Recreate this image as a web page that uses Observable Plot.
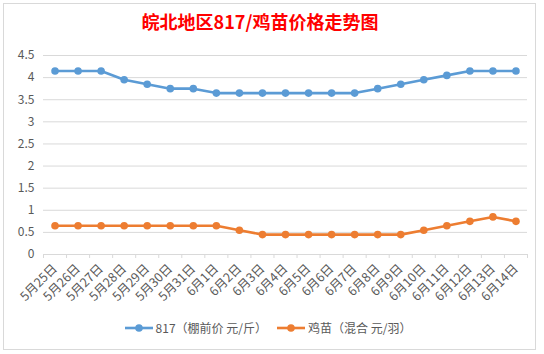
<!DOCTYPE html>
<html><head><meta charset="utf-8">
<script src="https://cdn.jsdelivr.net/npm/d3@7"></script>
<script src="https://cdn.jsdelivr.net/npm/@observablehq/plot@0.6"></script>
<style>
body{margin:0;background:#fff;font-family:"Noto Sans CJK SC","Noto Sans",sans-serif;}
#wrap{position:relative;width:544px;height:354px;overflow:hidden;background:#fff;}
#frame{position:absolute;left:3px;top:3px;width:531px;height:345px;border:1px solid #d9d9d9;}
#title{position:absolute;left:0;width:520px;top:10px;text-align:center;color:#ff0000;font-weight:bold;font-size:18px;line-height:22px;}
#chart{position:absolute;left:0;top:40px;}
#legend{position:absolute;left:0;width:536px;top:320px;display:flex;justify-content:center;gap:10px;font-size:12px;color:#595959;line-height:16px;}
.item{display:flex;align-items:center;gap:3px;}
</style></head>
<body>
<div id="wrap">
  <div id="frame"></div>
  <div id="title">皖北地区817/鸡苗价格走势图</div>
  <div id="chart"></div>
  <div id="legend"></div>
</div>
<script>
const dates = ["5月25日","5月26日","5月27日","5月28日","5月29日","5月30日","5月31日","6月1日","6月2日","6月3日","6月4日","6月5日","6月6日","6月7日","6月8日","6月9日","6月10日","6月11日","6月12日","6月13日","6月14日"];
const price817 = [4.15,4.15,4.15,3.95,3.85,3.75,3.75,3.65,3.65,3.65,3.65,3.65,3.65,3.65,3.75,3.85,3.95,4.05,4.15,4.15,4.15];
const chickPrice = [0.65,0.65,0.65,0.65,0.65,0.65,0.65,0.65,0.55,0.45,0.45,0.45,0.45,0.45,0.45,0.45,0.55,0.65,0.75,0.85,0.75];
const seriesNames = ["817（棚前价 元/斤）","鸡苗（混合 元/羽）"];
const seriesColors = ["#5B9BD5","#ED7D31"];
const yTicks = [0,0.5,1,1.5,2,2.5,3,3.5,4,4.5];

const rows = [];
[price817, chickPrice].forEach((vals, s) => {
  vals.forEach((v, i) => rows.push({i, date: dates[i], value: v, series: seriesNames[s]}));
});
const idx = dates.map((d, i) => i);
const boundaries = d3.range(dates.length + 1).map(k => k - 0.5);

const chart = Plot.plot({
  width: 544, height: 270,
  marginLeft: 43, marginRight: 17, marginTop: 15, marginBottom: 56,
  style: {fontFamily: '"Noto Sans CJK SC","Noto Sans",sans-serif', fontSize: "12px", color: "#595959", background: "transparent", overflow: "visible"},
  x: {domain: [-0.5, dates.length - 0.5], label: null},
  y: {domain: [0, 4.5], label: null},
  color: {domain: seriesNames, range: seriesColors},
  marks: [
    Plot.gridY(yTicks.filter(v => v > 0), {stroke: "#d9d9d9", strokeOpacity: 1}),
    Plot.ruleY([0], {stroke: "#d9d9d9"}),
    Plot.axisY(yTicks, {tickSize: 0, tickPadding: 9, fontSize: 12, fill: "#595959", label: null, tickFormat: d => String(d)}),
    Plot.axisX(boundaries, {tickSize: 4, tickFormat: () => "", stroke: "#d9d9d9", label: null}),
    Plot.axisX(idx, {tickSize: 0, tickFormat: i => dates[i], tickRotate: -45, tickPadding: 12, fontSize: 12.5, fill: "#595959", label: null}),
    Plot.line(rows, {x: "i", y: "value", z: "series", stroke: "series", strokeWidth: 2.6}),
    Plot.dot(rows, {x: "i", y: "value", fill: "series", r: 3.8})
  ]
});
document.getElementById("chart").appendChild(chart);

const legend = d3.select("#legend");
seriesNames.forEach((name, s) => {
  const it = legend.append("div").attr("class", "item");
  const svg = it.append("svg").attr("width", 28).attr("height", 10);
  svg.append("line").attr("x1", 0).attr("x2", 28).attr("y1", 5).attr("y2", 5).attr("stroke", seriesColors[s]).attr("stroke-width", 2.6);
  svg.append("circle").attr("cx", 14).attr("cy", 5).attr("r", 3.8).attr("fill", seriesColors[s]);
  it.append("span").text(name);
});
</script>
</body></html>
